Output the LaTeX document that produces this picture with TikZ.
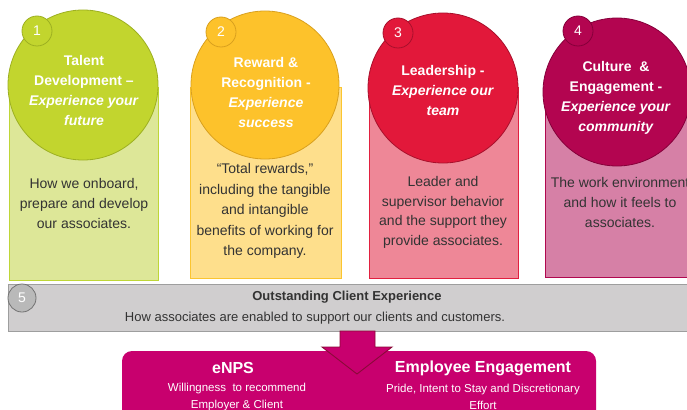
\documentclass[tikz,border=0pt]{standalone}
\usepackage{fontspec}
\setmainfont{Liberation Sans}
\definecolor{gA}{HTML}{C2D52E}\definecolor{gAd}{HTML}{9DB021}\definecolor{gAl}{HTML}{DDE798}\definecolor{gAe}{HTML}{BED637}
\definecolor{yB}{HTML}{FDC22B}\definecolor{yBd}{HTML}{D9A01E}\definecolor{yBl}{HTML}{FEDF8C}\definecolor{yBe}{HTML}{FBC530}
\definecolor{rC}{HTML}{E2183A}\definecolor{rCd}{HTML}{A8102C}\definecolor{rCl}{HTML}{EE8797}\definecolor{rCe}{HTML}{E1203F}
\definecolor{mD}{HTML}{B30550}\definecolor{mDd}{HTML}{85003A}\definecolor{mDl}{HTML}{D680A6}\definecolor{mDe}{HTML}{B0084F}
\definecolor{band}{HTML}{D0CECF}\definecolor{bandd}{HTML}{9E9E9E}
\definecolor{mag}{HTML}{C8006E}\definecolor{magd}{HTML}{8A0A38}
\definecolor{txt}{HTML}{333333}
\tikzset{
  colbox/.style={draw, line width=1pt},
  bigc/.style={circle, draw, line width=0.8pt, minimum size=#1, inner sep=0pt},
  numc/.style={circle, draw, line width=0.8pt, minimum size=30pt, inner sep=0pt, text=white, font=\fontsize{14}{14}\selectfont},
  ttl/.style={text=white, align=center, font=\fontsize{14}{20}\selectfont\bfseries},
  body/.style={text=txt, align=center, font=\fontsize{14}{19.6}\selectfont},
}
\begin{document}
\begin{tikzpicture}[x=1pt,y=-1pt]
\useasboundingbox (0,0) rectangle (687,409);
\clip (0,0) rectangle (687,409);
\fill[white] (0,0) rectangle (687,409);
% column rectangles
\draw[colbox, draw=gAe, fill=gAl] (9,88) rectangle (158,280);
\draw[colbox, draw=yBe, fill=yBl] (190,88) rectangle (341,278);
\draw[colbox, draw=rCe, fill=rCl] (369,88) rectangle (518,278);
\draw[colbox, draw=mDe, fill=mDl] (545,88) rectangle (700,277);
% big circles
\node[bigc=150pt, draw=gAd, fill=gA] (c1) at (83,85) {};
\node[bigc=148pt, draw=yBd, fill=yB] (c2) at (265,85) {};
\node[bigc=150pt, draw=rCd, fill=rC] (c3) at (443,88) {};
\node[bigc=148pt, draw=mDd, fill=mD] (c4) at (617,92) {};
% small number circles
\node[numc, draw=gAd, fill=gA] (n1) at (37,31) {1};
\node[numc, draw=yBd, fill=yB] (n2) at (221,32) {2};
\node[numc, draw=rCd, fill=rC] (n3) at (398,33) {3};
\node[numc, draw=mDd, fill=mD] (n4) at (578,31) {4};
% titles
\node[ttl] (t1) at (84,90) {Talent\\Development –\\\textit{Experience your}\\\textit{future}};
\node[ttl] (t2) at (266,92.5) {Reward \&\\Recognition -\\\textit{Experience}\\\textit{success}};
\node[ttl] (t3) at (443,90.5) {Leadership -\\\textit{Experience our}\\\textit{team}};
\node[ttl] (t4) at (616,98) {Culture\ \ \&\\Engagement -\\\textit{Experience your}\\\textit{community}};
% body texts
\node[body] (b1) at (84,203.5) {How we onboard,\\prepare and develop\\our associates.};
\node[body, font=\fontsize{14}{20.5}\selectfont] (b2) at (265,211) {“Total rewards,”\\including the tangible\\and intangible\\benefits of working for\\the company.};
\node[body] (b3) at (443,212.5) {Leader and\\supervisor behavior\\and the support they\\provide associates.};
\node[body] (b4) at (620,202.5) {The work environment\\and how it feels to\\associates.};
% band
\draw[line width=1pt, draw=bandd, fill=band] (8,284) rectangle (700,331);
\node[circle, draw=gray!90!black, line width=0.8pt, fill=gray!55, minimum size=28pt, inner sep=0pt, text=white, font=\fontsize{14}{14}\selectfont] (n5) at (22,298) {5};
\node[text=txt, font=\fontsize{13}{13}\selectfont\bfseries] (bt) at (347,297) {Outstanding Client Experience};
\node[text=txt, font=\fontsize{13}{13}\selectfont] (bs) at (315,318) {How associates are enabled to support our clients and customers.};
% bottom box
\fill[mag, rounded corners=10pt] (122,351) rectangle (596,440);
% arrow
\draw[line width=0.9pt, draw=magd, fill=mag] (340,331) -- (375,331) -- (375,347) -- (392,347) -- (357,374) -- (322,347) -- (340,347) -- cycle;
\node[text=white, font=\fontsize{16}{16}\selectfont\bfseries] (e1) at (233,368) {eNPS};
\node[text=white, align=center, font=\fontsize{11.5}{17}\selectfont] (e2) at (237,397) {Willingness\ \ to recommend\\Employer \& Client};
\node[text=white, font=\fontsize{16}{16}\selectfont\bfseries] (f1) at (483,368) {Employee Engagement};
\node[text=white, align=center, font=\fontsize{11.5}{17}\selectfont] (f2) at (483,397) {Pride, Intent to Stay and Discretionary\\Effort};
\end{tikzpicture}
\end{document}
